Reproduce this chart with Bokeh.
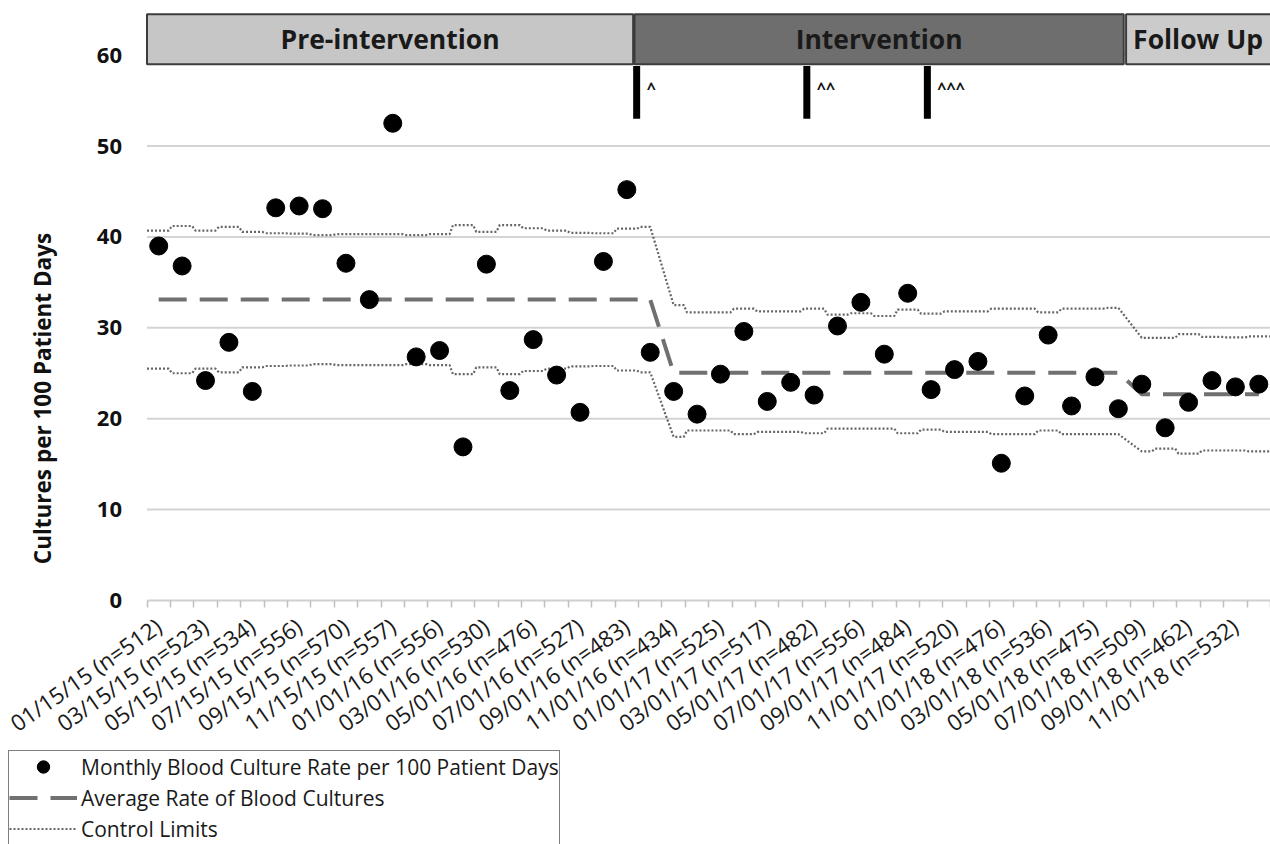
import math
from bokeh.plotting import figure
from bokeh.models import Range1d, FixedTicker, Legend, LegendItem, Label
from bokeh.core.properties import value
from bokeh.embed import file_html
from bokeh.resources import INLINE

# ---------------- data ----------------
tick_labels = ["01/15/15 (n=512)", "03/15/15 (n=523)", "05/15/15 (n=534)", "07/15/15 (n=556)",
               "09/15/15 (n=570)", "11/15/15 (n=557)", "01/01/16 (n=556)", "03/01/16 (n=530)",
               "05/01/16 (n=476)", "07/01/16 (n=527)", "09/01/16 (n=483)", "11/01/16 (n=434)",
               "01/01/17 (n=525)", "03/01/17 (n=517)", "05/01/17 (n=482)", "07/01/17 (n=556)",
               "09/01/17 (n=484)", "11/01/17 (n=520)", "01/01/18 (n=476)", "03/01/18 (n=536)",
               "05/01/18 (n=475)", "07/01/18 (n=509)", "09/01/18 (n=462)", "11/01/18 (n=532)"]

rates = [39.0, 36.8, 24.2, 28.4, 23.0, 43.2, 43.4, 43.1, 37.1, 33.1, 52.5, 26.8,
         27.5, 16.9, 37.0, 23.1, 28.7, 24.8, 20.7, 37.3, 45.2, 27.3, 23.0, 20.5,
         24.9, 29.6, 21.9, 24.0, 22.6, 30.2, 32.8, 27.1, 33.8, 23.2, 25.4, 26.3,
         15.1, 22.5, 29.2, 21.4, 24.6, 21.1, 23.8, 19.0, 21.8, 24.2, 23.5, 23.8]

phase_names = ["Pre-intervention", "Intervention", "Follow Up"]
phase_months = [22, 20, 6]
phase_mean = [33.1, 25.05, 22.7]
phase_box_start = [-0.5, 20.33, 41.33]
phase_box_end = [20.27, 41.23, 48.5]

ucl = [40.7, 41.2, 40.7, 41.1, 40.55, 40.4, 40.35, 40.2, 40.3, 40.3, 40.3, 40.2,
       40.3, 41.3, 40.55, 41.3, 40.95, 40.7, 40.45, 40.4, 40.9, 41.1,
       32.5, 31.7, 31.7, 32.1, 31.8, 31.8, 32.1, 31.45, 31.6, 31.3, 32.0, 31.55,
       31.8, 31.8, 32.1, 32.1, 31.7, 32.1, 32.1, 32.2,
       28.9, 28.9, 29.3, 29.0, 28.95, 29.05]
lcl = [25.5, 25.0, 25.5, 25.1, 25.65, 25.8, 25.85, 26.0, 25.9, 25.9, 25.9, 26.0,
       25.9, 24.9, 25.65, 24.9, 25.25, 25.5, 25.75, 25.8, 25.3, 25.1,
       18.0, 18.7, 18.7, 18.3, 18.55, 18.55, 18.4, 18.9, 18.9, 18.9, 18.4, 18.8,
       18.55, 18.55, 18.3, 18.3, 18.7, 18.3, 18.3, 18.3,
       16.4, 16.7, 16.15, 16.5, 16.5, 16.4]

event_labels = ["^", "^^", "^^^"]
event_month = [20.42, 27.69, 32.84]

y_ticks = [0, 10, 20, 30, 40, 50, 60]
y_title = "Cultures per 100 Patient Days"
legend_labels = ["Monthly Blood Culture Rate per 100 Patient Days",
                 "Average Rate of Blood Cultures", "Control Limits"]

# ---------------- derived ----------------
n = len(rates)
months = list(range(n))
avg = []
for m, c in zip(phase_mean, phase_months):
    avg += [m] * c


def limit_path(vals, d=0.07):
    xs, ys = [], []
    idx = 0
    last = len(phase_months) - 1
    for pi, c in enumerate(phase_months):
        for k in range(c):
            i = idx + k
            if k == 0:
                left = i - 0.5 if pi == 0 else i
            else:
                left = i - 0.5 + d
            if k == c - 1:
                right = i + 0.5 if pi == last else i
            else:
                right = i + 0.5 - d
            xs += [left, right]
            ys += [vals[i], vals[i]]
        idx += c
    return xs, ys


FONT = "Open Sans"
W, H = 1270, 844
PLOT_LEFT_PX = 146.5      # where the category axis starts
ZERO_PX = 600.0           # page y of value 0
PX_PER_UNIT_Y = 9.09
x0, x1 = -0.5, n - 0.5
px_per_cat = (W - PLOT_LEFT_PX) / (x1 - x0)
x_start = x0 - PLOT_LEFT_PX / px_per_cat
y_top = ZERO_PX / PX_PER_UNIT_Y
y_bot = -(H - ZERO_PX) / PX_PER_UNIT_Y

p = figure(width=W, height=H, x_range=Range1d(x_start, x1), y_range=Range1d(y_bot, y_top),
           output_backend="svg", toolbar_location=None, min_border=0)
p.outline_line_color = None
p.grid.visible = False

# x axis (drawn at value 0)
tick_pos = months[::2]
p.xaxis.fixed_location = 0
p.xaxis.bounds = (x0, x1)
p.xaxis.ticker = FixedTicker(ticks=tick_pos, minor_ticks=[m - 0.5 for m in months] + [x1])
p.xaxis.major_label_overrides = {t: lab for t, lab in zip(tick_pos, tick_labels)}
p.xaxis.major_label_orientation = math.radians(35)
p.xaxis.major_label_text_font = FONT
p.xaxis.major_label_text_font_size = "22.5px"
p.xaxis.major_label_text_color = "#1a1a1a"
p.xaxis.major_label_standoff = 16
p.xaxis.major_tick_line_color = None
p.xaxis.minor_tick_line_color = "#bfbfbf"
p.xaxis.minor_tick_line_width = 1.5
p.xaxis.minor_tick_out = 7
p.xaxis.minor_tick_in = 0
p.xaxis.axis_line_color = "#d0d0d0"
p.xaxis.axis_line_width = 2

# y axis (drawn at the left edge of the categories)
p.yaxis.fixed_location = x0
p.yaxis.bounds = (0, 60)
p.yaxis.ticker = FixedTicker(ticks=y_ticks)
p.yaxis.axis_line_color = None
p.yaxis.major_tick_line_color = None
p.yaxis.minor_tick_line_color = None
p.yaxis.major_label_text_font = FONT
p.yaxis.major_label_text_font_style = "bold"
p.yaxis.major_label_text_font_size = "22px"
p.yaxis.major_label_text_color = "#111111"
p.yaxis.major_label_standoff = 19

# horizontal gridlines over the category area only
gy = y_ticks[1:]
p.segment(x0=[x0] * len(gy), y0=gy, x1=[x1] * len(gy), y1=gy, line_color="#d4d4d4", line_width=2)

p.add_layout(Label(x=42, y=H - 398, x_units="screen", y_units="screen", text=y_title,
                   angle=math.pi / 2, text_align="center", text_baseline="middle",
                   text_font=FONT, text_font_style="bold", text_font_size="22.5px",
                   text_color="#111111"))

# phase header boxes
p.quad(left=phase_box_start, right=phase_box_end, bottom=59.0, top=64.5,
       fill_color=["#c6c6c6", "#6e6e6e", "#cbcbcb"], line_color="#3c3c3c", line_width=2)
p.text(x=[(phase_box_start[i] + phase_box_end[i]) / 2 for i in range(2)], y=[61.75] * 2,
       text=phase_names[:2], text_align="center", text_baseline="middle",
       text_font=value(FONT), text_font_style="bold", text_font_size="26.5px", text_color="#1a1a1a")
p.text(x=[phase_box_start[2]], y=[61.75], text=[phase_names[2]], x_offset=7,
       text_align="left", text_baseline="middle",
       text_font=value(FONT), text_font_style="bold", text_font_size="26.5px", text_color="#1a1a1a")

# event markers
p.segment(x0=event_month, y0=[53.0] * 3, x1=event_month, y1=[58.8] * 3, line_width=7, line_color="black")
p.text(x=event_month, y=[56.4] * 3, text=event_labels, x_offset=10, text_baseline="alphabetic",
       text_font=value(FONT), text_font_style="bold", text_font_size="16px", text_color="#111111")

# control limits
ux, uy = limit_path(ucl)
lx, ly = limit_path(lcl)
LIM = dict(line_color="#666666", line_width=2.2, line_dash="2 2")
r_lim = p.line(ux, uy, **LIM)
p.line(lx, ly, **LIM)

# average
r_avg = p.line(months, avg, line_color="#707070", line_width=4, line_dash="28 13")

# points
r_pts = p.scatter(months, rates, size=18, color="black")

legend = Legend(items=[LegendItem(label=legend_labels[0], renderers=[r_pts]),
                       LegendItem(label=legend_labels[1], renderers=[r_avg]),
                       LegendItem(label=legend_labels[2], renderers=[r_lim])],
                location=(8, -1))
legend.label_text_font = FONT
legend.label_text_font_size = "21px"
legend.label_text_color = "#1a1a1a"
legend.glyph_width = 68
legend.glyph_height = 31
legend.label_height = 31
legend.label_standoff = 4
legend.padding = 0
legend.spacing = 0
legend.margin = 0
legend.border_line_color = "black"
legend.border_line_width = 1.5
legend.background_fill_color = "white"
legend.background_fill_alpha = 1
p.add_layout(legend, "center")

open("out.html", "w").write(file_html(p, INLINE))
